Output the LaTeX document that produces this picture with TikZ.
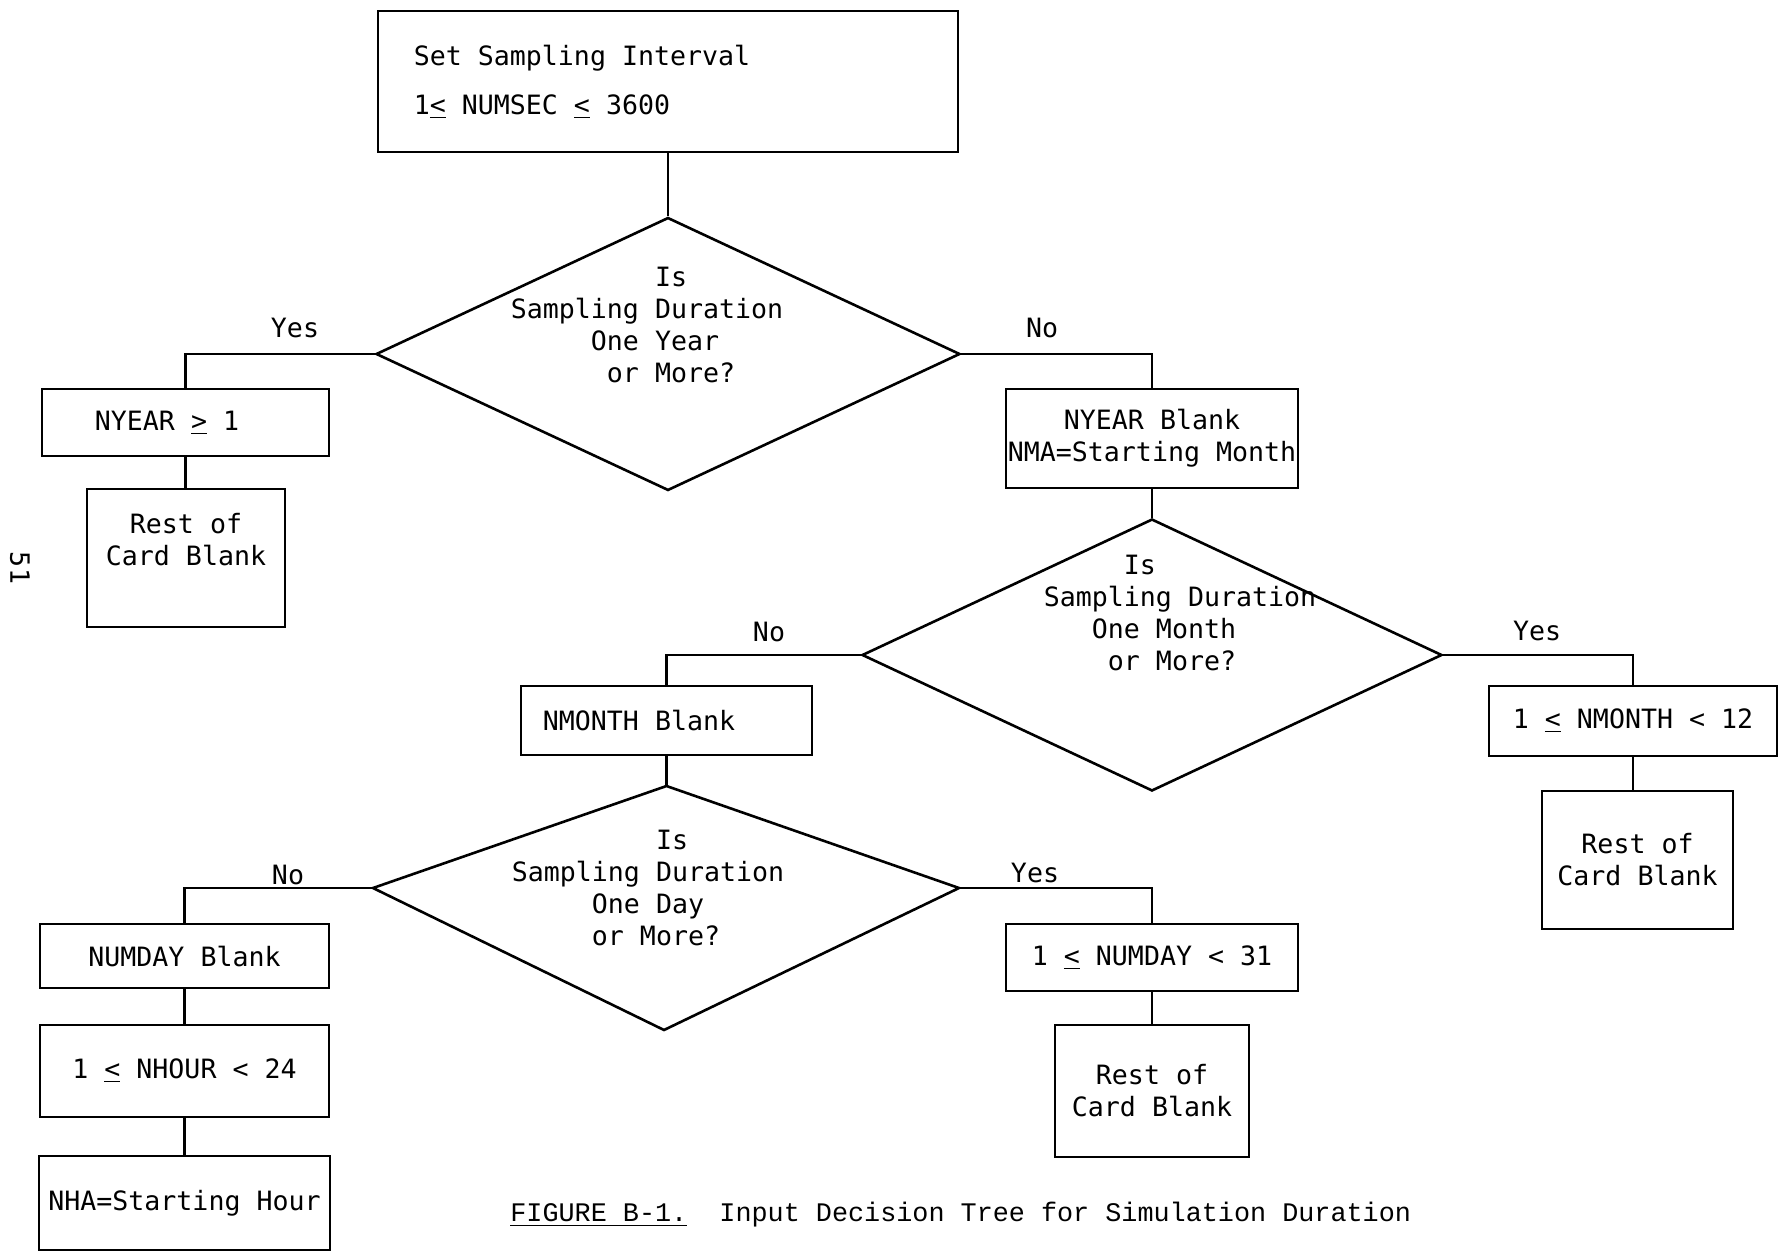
\documentclass[tikz,border=0pt]{standalone}
\usepackage{fontspec}
\newfontfamily\tw{DejaVu Sans Mono}
\newfontfamily\cw{Liberation Mono}
\usetikzlibrary{shapes.geometric}
\begin{document}
\begin{tikzpicture}[x=0.5pt,y=-0.5pt,
  every node/.style={font=\tw\fontsize{13.3}{16}\selectfont},
  box/.style={draw, line width=1.3pt, rectangle, inner sep=0pt, align=center},
  dia/.style={draw, line width=1.3pt, diamond, inner sep=0pt},
  conn/.style={line width=1.3pt},
  lbl/.style={inner sep=0pt},
  qtext/.style={align=left, inner sep=0pt}]
\useasboundingbox (0,0) rectangle (1780,1252);

% top box
\node[box, minimum width=290pt, minimum height=70.5pt, align=left] (top) at (668,81.5)
  {Set Sampling Interval\hspace*{86pt}\\[8.5pt]1\underline{<} NUMSEC \underline{<} 3600};

% first decision
\node[dia, minimum width=292pt, minimum height=136.5pt] (d1) at (668,354) {};
\node[qtext] (q1) at (647,325) {\phantom{000000000}Is\\Sampling Duration\\\phantom{00000}One Year\\\phantom{000000}or More?};

\node[box, minimum width=143.5pt, minimum height=33.5pt] (ny1) at (185.5,422.5) {NYEAR \underline{>} 1\hspace*{18.5pt}};
\node[box, minimum width=99pt, minimum height=69pt] (r1) at (186,558) {Rest of\\Card Blank\\[3pt]\mbox{}};

\node[box, minimum width=146pt, minimum height=49.5pt] (nyb) at (1152,438.5) {NYEAR Blank\\NMA=Starting Month};

% second decision
\node[dia, minimum width=290pt, minimum height=136pt] (d2) at (1152,655) {};
\node[qtext] (q2) at (1180,613) {\phantom{00000}Is\\Sampling Duration\\\phantom{000}One Month\\\phantom{0000}or More?};

\node[box, minimum width=145.5pt, minimum height=34.5pt] (nmb) at (666.5,720.5) {NMONTH Blank\hspace*{27.5pt}};
\node[box, minimum width=144pt, minimum height=35pt] (nm12) at (1633,721) {1 \underline{<} NMONTH < 12};
\node[box, minimum width=95.5pt, minimum height=69pt] (r2) at (1637.5,860) {Rest of\\Card Blank};

% third decision
\coordinate (d3t) at (666.5,786);
\coordinate (d3l) at (373,888);
\coordinate (d3r) at (959,888);
\coordinate (d3b) at (664,1030);
\draw[conn] (d3t) -- (d3r) -- (d3b) -- (d3l) -- cycle;
\node[qtext] (q3) at (648,888) {\phantom{000000000}Is\\Sampling Duration\\\phantom{00000}One Day\\\phantom{00000}or More?};

\node[box, minimum width=144.5pt, minimum height=32pt] (nd) at (184.5,956) {NUMDAY Blank};
\node[box, minimum width=144.5pt, minimum height=46pt] (nh) at (184.5,1071) {1 \underline{<} NHOUR < 24};
\node[box, minimum width=145.5pt, minimum height=47pt] (nha) at (184.5,1203) {NHA=Starting Hour};
\node[box, minimum width=146pt, minimum height=33.5pt] (nd31) at (1152,957.5) {1 \underline{<} NUMDAY < 31};
\node[box, minimum width=97pt, minimum height=66pt] (r3) at (1152,1091) {Rest of\\Card Blank};

% connectors
\draw[conn] (top.south) -- (d1.north);
\draw[conn] (d1.west) -| (ny1.north);
\draw[conn] (ny1.south) -- (ny1.south |- r1.north);
\draw[conn] (d1.east) -| (nyb.north);
\draw[conn] (nyb.south) -- (d2.north);
\draw[conn] (d2.west) -| (nmb.north);
\draw[conn] (d2.east) -| (nm12.north);
\draw[conn] (nm12.south) -- (nm12.south |- r2.north);
\draw[conn] (nmb.south) -- (d3t);
\draw[conn] (d3l) -| (nd.north);
\draw[conn] (nd.south) -- (nh.north);
\draw[conn] (nh.south) -- (nha.north);
\draw[conn] (d3r) -| (nd31.north);
\draw[conn] (nd31.south) -- (r3.north);

% branch labels
\node[lbl] (yes1) at (295,328) {Yes};
\node[lbl] (no1) at (1042,328) {No};
\node[lbl] (no2) at (769,632) {No};
\node[lbl] (yes2) at (1537,631) {Yes};
\node[lbl] (no3) at (288,875) {No};
\node[lbl] (yes3) at (1035,873) {Yes};

% caption and page number
\node[lbl, anchor=west, font=\cw\fontsize{13.4}{16}\selectfont] (cap) at (510,1215)
  {\underline{FIGURE B-1.}~~Input Decision Tree for Simulation Duration};
\node[lbl, rotate=-90] (pg) at (20,568) {51};
\end{tikzpicture}
\end{document}
